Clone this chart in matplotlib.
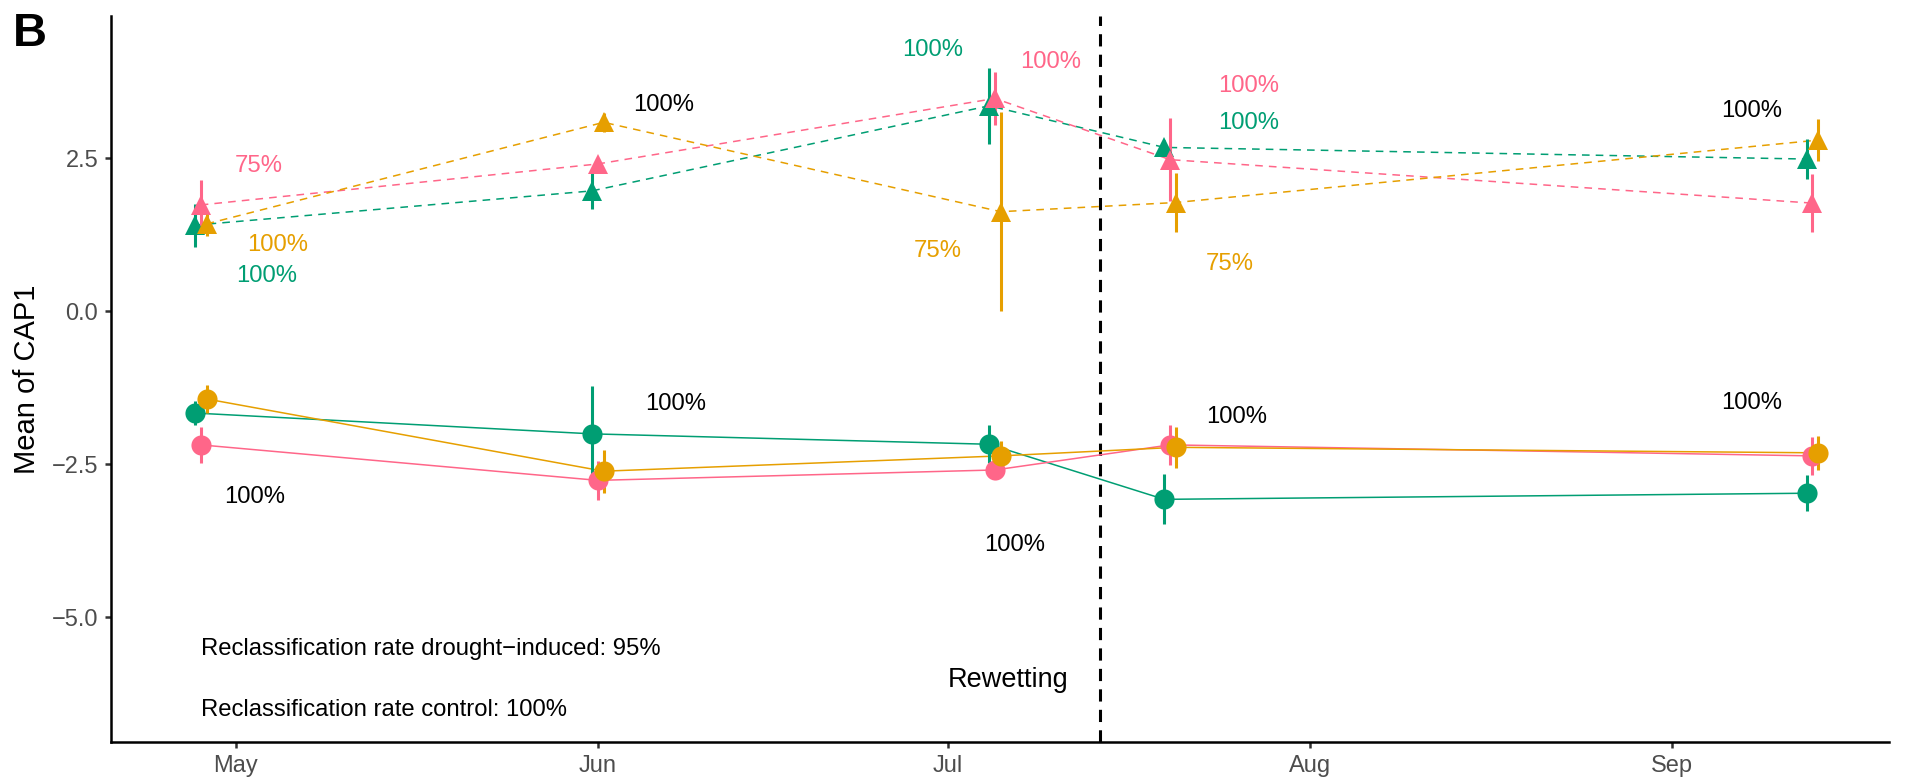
import datetime as dt

import matplotlib
matplotlib.use("Agg")
import matplotlib.dates as mdates
import matplotlib.pyplot as plt
import numpy as np

plt.rcParams["font.family"] = ["Liberation Sans", "DejaVu Sans"]

# sampling dates and groups
dates = ["2021-04-28", "2021-06-01", "2021-07-05", "2021-07-20", "2021-09-13"]
groups = ["green", "pink", "orange"]
colors = {"green": "#009E73", "pink": "#FF6689", "orange": "#E69F00"}

# control plants (circles, solid lines)
ctrl_mean = {
    "green": [-1.66, -2.00, -2.17, -3.07, -2.97],
    "pink": [-2.18, -2.76, -2.59, -2.18, -2.36],
    "orange": [-1.43, -2.61, -2.36, -2.22, -2.31],
}
ctrl_se = {
    "green": [0.19, 0.78, 0.31, 0.41, 0.29],
    "pink": [0.29, 0.32, 0.10, 0.33, 0.31],
    "orange": [0.23, 0.35, 0.25, 0.33, 0.28],
}

# drought-induced plants (triangles, dashed lines)
drought_mean = {
    "green": [1.41, 1.97, 3.36, 2.68, 2.49],
    "pink": [1.74, 2.41, 3.48, 2.48, 1.77],
    "orange": [1.43, 3.09, 1.63, 1.78, 2.80],
}
drought_se = {
    "green": [0.35, 0.30, 0.62, 0.12, 0.32],
    "pink": [0.40, 0.10, 0.44, 0.68, 0.48],
    "orange": [0.20, 0.15, 1.63, 0.48, 0.35],
}

# reclassification labels: text, colour, days after 1 May, y
pct_text = ["75%", "100%", "100%", "100%", "100%", "100%", "75%", "100%",
            "100%", "75%", "100%", "100%", "100%", "100%", "100%", "100%"]
pct_color = ["pink", "orange", "green", "black", "green", "pink", "orange", "pink",
             "green", "orange", "black", "black", "black", "black", "black", "black"]
pct_day = [2.0, 3.6, 2.6, 36.6, 59.7, 69.8, 60.1, 86.7,
           86.7, 85.1, 129.8, 1.6, 37.7, 66.7, 85.7, 129.8]
pct_y = [2.38, 1.09, 0.58, 3.37, 4.27, 4.08, 0.99, 3.68,
         3.08, 0.78, 3.28, -3.03, -1.52, -3.82, -1.72, -1.50]

rewetting = "2021-07-14"
rate_drought = "Reclassification rate drought\u2212induced: 95%"
rate_control = "Reclassification rate control: 100%"

may1 = mdates.date2num(dt.datetime(2021, 5, 1))
x = mdates.date2num([dt.datetime.strptime(d, "%Y-%m-%d") for d in dates])
dodge = {"green": -0.5, "pink": 0.0, "orange": 0.5}

fig = plt.figure(figsize=(19.05, 7.8), dpi=100)
ax = fig.add_axes([0.0581, 0.0483, 0.9335, 0.9314])

for g in groups:
    c = colors[g]
    xs = x + dodge[g]
    ax.plot(xs, drought_mean[g], color=c, lw=1.1, ls=(0, (5, 4)), zorder=2)
    ax.errorbar(xs, drought_mean[g], yerr=drought_se[g], fmt="none", ecolor=c,
                elinewidth=2.2, capsize=0, zorder=3)
    ax.plot(xs, drought_mean[g], ls="none", marker="^", ms=15, color=c,
            markeredgewidth=0, zorder=4)

    ax.plot(xs, ctrl_mean[g], color=c, lw=1.1, zorder=2)
    ax.errorbar(xs, ctrl_mean[g], yerr=ctrl_se[g], fmt="none", ecolor=c,
                elinewidth=2.2, capsize=0, zorder=3)
    ax.plot(xs, ctrl_mean[g], ls="none", marker="o", ms=14.5, color=c,
            markeredgewidth=0, zorder=4)

for t, c, d, yv in zip(pct_text, pct_color, pct_day, pct_y):
    ax.text(may1 + d, yv, t, color=colors.get(c, "black"), fontsize=17.2,
            ha="center", va="center")

xr = mdates.date2num(dt.datetime.strptime(rewetting, "%Y-%m-%d"))
ax.axvline(xr, color="black", lw=2.2, ls=(0, (4, 2.7)), zorder=1)
ax.text(may1 + 66.1, -6.02, "Rewetting", fontsize=19.5, ha="center", va="center")
ax.text(may1 - 2.97, -5.52, rate_drought, fontsize=17.2, ha="left", va="center")
ax.text(may1 - 2.97, -6.51, rate_control, fontsize=17.2, ha="left", va="center")

ax.set_xlim(may1 - 10.71, may1 + 141.55)
ax.set_ylim(-7.04, 4.83)
ax.set_yticks([2.5, 0.0, -2.5, -5.0])
ax.set_yticklabels(["2.5", "0.0", "\u22122.5", "\u22125.0"])
ax.xaxis.set_major_locator(mdates.MonthLocator(bymonth=[5, 6, 7, 8, 9]))
ax.xaxis.set_major_formatter(mdates.DateFormatter("%b"))
ax.set_ylabel("Mean of CAP1", fontsize=21, labelpad=8)

for side in ["top", "right"]:
    ax.spines[side].set_visible(False)
for side in ["left", "bottom"]:
    ax.spines[side].set_linewidth(1.8)
ax.tick_params(axis="both", length=4, width=1.8, color="#333333",
               labelsize=17, labelcolor="#4D4D4D", pad=5)

fig.text(0.0065, 0.956, "B", fontsize=34, fontweight="bold", va="center", ha="left")

fig.savefig("out.png", dpi=100)
